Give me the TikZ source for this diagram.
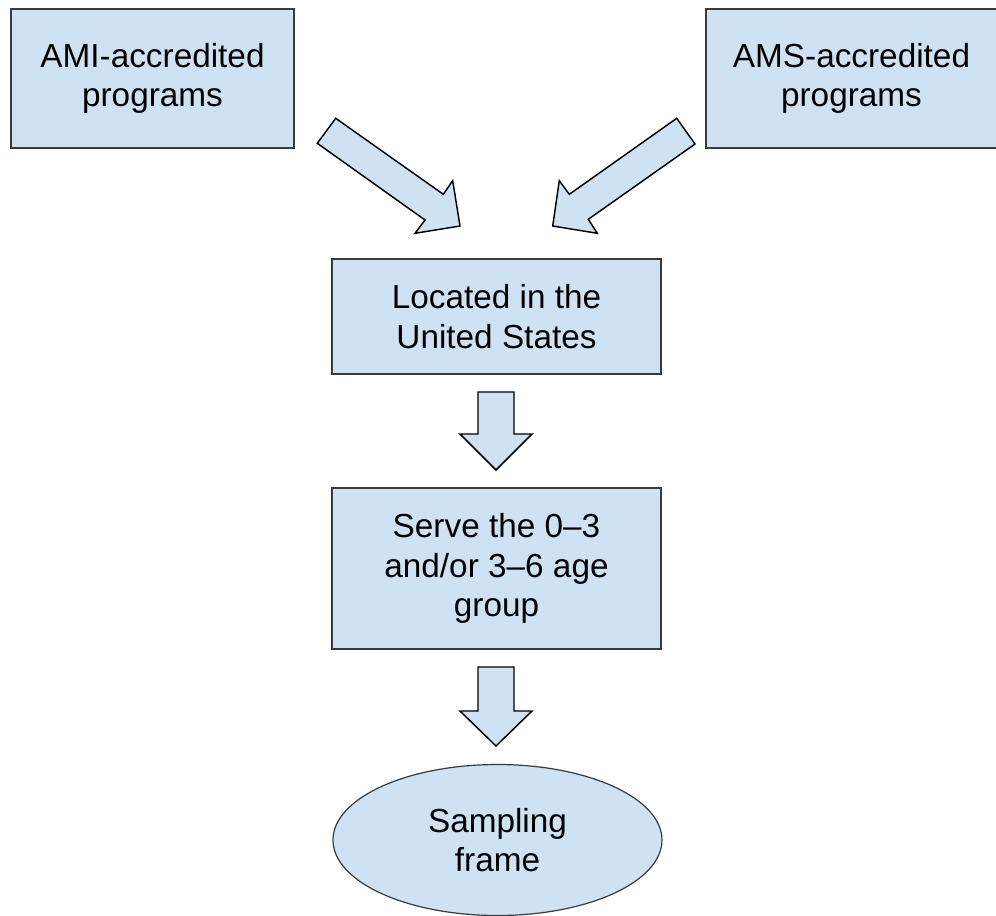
\documentclass[tikz,border=0pt]{standalone}
\usepackage{fontspec}
\setmainfont{Liberation Sans}
\usetikzlibrary{shapes.geometric}

\definecolor{boxblue}{HTML}{CFE2F3}
\definecolor{boxline}{HTML}{3A3A3A}

\tikzset{
  stagebox/.style={draw=boxline, line width=0.9pt, fill=boxblue, align=center,
    inner sep=0pt, font=\fontsize{25}{29.5}\selectfont},
  blockarrow/.style={draw=black, line width=1.1pt, fill=boxblue, line join=miter}
}

\begin{document}
\begin{tikzpicture}[x=0.75pt, y=-0.75pt]
            \useasboundingbox (0,0) rectangle (996,915);
            \node[stagebox, minimum width=283*0.75pt, minimum height=139*0.75pt] (ami) at (152.5,78.5) {AMI-accredited\\programs};
            \node[stagebox, minimum width=291*0.75pt, minimum height=139*0.75pt] (ams) at (851.5,78.5) {AMS-accredited\\programs};
            \node[stagebox, minimum width=329*0.75pt, minimum height=115*0.75pt] (loc) at (496.5,316.5) {Located in the\\United States};
            \node[stagebox, minimum width=329*0.75pt, minimum height=161*0.75pt] (serve) at (496.5,568.5) {Serve the 0--3\\and/or 3--6 age\\group};
            \node[stagebox, ellipse, minimum width=329*0.75pt, minimum height=151*0.75pt] (frame) at (497.5,840) {Sampling\\frame};
            % block arrows
            \draw[blockarrow] (335.7,118.3)--(443.3,194.3)--(452.7,180.7)--(460,226)--(415,233.3)--(425,220)--(317.3,143.3)--cycle;
            \draw[blockarrow] (676.7,118.3)--(569.3,194.3)--(559.3,180.7)--(552.7,226)--(597.3,233.3)--(588.3,219.3)--(695,144)--cycle;
            \draw[blockarrow] (478,392)--(514,392)--(514,434)--(532,434)--(496,470)--(460,434)--(478,434)--cycle;
            \draw[blockarrow] (478,667)--(514,667)--(514,711)--(532,711)--(496,746)--(460,711)--(478,711)--cycle;
        \end{tikzpicture}
\end{document}
